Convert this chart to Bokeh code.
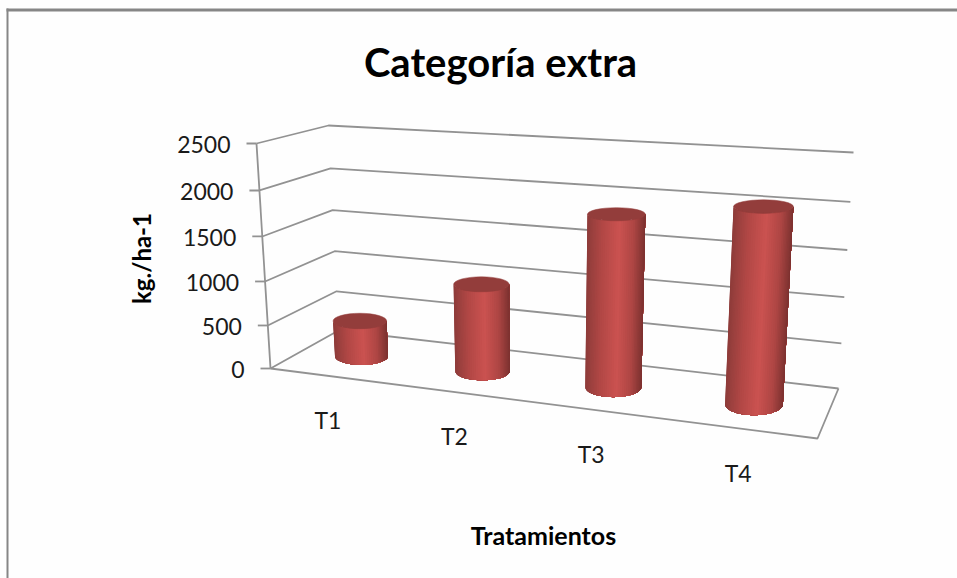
import numpy as np
from bokeh.plotting import figure
from bokeh.core.properties import value
from bokeh.embed import file_html
from bokeh.resources import INLINE

title_text = "Categoría extra"
x_title = "Tratamientos"
y_title = "kg./ha-1"
categories = ["T1", "T2", "T3", "T4"]
yields = [425, 995, 1875, 2060]
tick_values = [0, 500, 1000, 1500, 2000, 2500]
tick_labels = ["0", "500", "1000", "1500", "2000", "2500"]
y_max = 2500

# screen positions of the 3D box corners (base, top)
A0, A1 = np.array([270., 368.]), np.array([256., 143.])
B0, B1 = np.array([338., 330.]), np.array([328., 125.])
C0, C1 = np.array([838., 388.]), np.array([853., 152.])
D0, D1 = np.array([817., 438.]), np.array([833., 180.])

GRID = "#929292"
FONT = value("Lato")


def persp_u(u):
    return u - 0.15 * u * (1 - u)


def persp_v(v):
    return v - 0.055 * v * (1 - v)


def project(u, w, val):
    """category fraction u, depth w (0 front, 1 back), data value -> screen."""
    f = persp_u(u)
    s = persp_v(val / y_max)
    base = (1 - f) * ((1 - w) * A0 + w * B0) + f * ((1 - w) * D0 + w * C0)
    top = (1 - f) * ((1 - w) * A1 + w * B1) + f * ((1 - w) * D1 + w * C1)
    return base + (top - base) * s


def shade(t):
    stops_t = [0.0, 0.25, 0.55, 0.8, 1.0]
    stops_c = np.array([[0x8e, 0x3c, 0x3a], [0xb0, 0x47, 0x45], [0xcb, 0x52, 0x50],
                        [0xae, 0x46, 0x44], [0x7c, 0x32, 0x30]], float)
    rgb = [np.interp(t, stops_t, stops_c[:, i]) for i in range(3)]
    return "#%02x%02x%02x" % tuple(int(round(c)) for c in rgb)


p = figure(width=957, height=578, x_range=(0, 957), y_range=(578, 0),
           output_backend="svg", toolbar_location=None,
           x_axis_type=None, y_axis_type=None, min_border=0,
           background_fill_color="#fefefe", border_fill_color="#fefefe",
           outline_line_color=None)
p.grid.visible = False

# chart frame: top and left edges
p.line([7, 7], [8, 578], line_color="#868686", line_width=2)
p.line([6, 957], [9.5, 9.5], line_color="#868686", line_width=3)

# gridlines and walls
for v in tick_values:
    a, b, c = project(0, 0, v), project(0, 1, v), project(1, 1, v)
    p.line([a[0], b[0], c[0]], [a[1], b[1], c[1]], line_color=GRID, line_width=1.8)
# floor front
a, d, c = project(0, 0, 0), project(1, 0, 0), project(1, 1, 0)
p.line([a[0], d[0], c[0]], [a[1], d[1], c[1]], line_color=GRID, line_width=1.8)
# value axis with ticks
bot, top = project(0, 0, 0), project(0, 0, y_max)
p.line([bot[0], top[0]], [bot[1], top[1]], line_color=GRID, line_width=1.8)
for v in tick_values:
    q = project(0, 0, v)
    p.line([q[0] - 10, q[0]], [q[1], q[1]], line_color=GRID, line_width=1.8)

# cylinders
N = 40
for i, val in enumerate(yields):
    u = (i + 0.5) / len(categories)
    f = persp_u(u)
    c0 = project(u, 0.5, 0)
    c1 = project(u, 0.5, val)
    s = persp_v(val / y_max)
    rx0 = 26.0 + 3.4 * f
    rx1 = rx0 + 0.3 + 0.9 * s
    ry0 = 8.0 + 3.2 * f
    ry1 = ry0 * (1 - 0.45 * s)
    th = np.linspace(np.pi, 0, N + 1)
    xs, ys, cols = [], [], []
    for k in range(N):
        arc = th[k:]  # every strip reaches the right edge, the next one paints over it
        bx = c0[0] + rx0 * np.cos(arc)
        by = c0[1] + ry0 * np.sin(arc)
        tx_ = c1[0] + rx1 * np.cos(arc)
        ty_ = c1[1] + ry1 * np.sin(arc)
        xs.append(list(bx) + list(tx_[::-1]))
        ys.append(list(by) + list(ty_[::-1]))
        cols.append(shade((np.cos(th[k]) + np.cos(th[k + 1])) / 4 + 0.5))
    p.patches(xs, ys, fill_color=cols, line_color=None)
    p.ellipse(x=[c1[0]], y=[c1[1]], width=[2 * rx1], height=[2 * ry1],
              fill_color="#933d3b", line_color="#933d3b", line_width=0.5)

# tick labels
tx, ty = [], []
for v in tick_values:
    q = project(0, 0, v)
    tx.append(q[0] - 26)
    ty.append(q[1] + 1)
p.text(tx, ty, text=tick_labels, text_font=FONT, text_font_size="23px",
       text_color="#1a1a1a", text_align="right", text_baseline="middle")

# category labels
cx, cy = [], []
for i in range(len(categories)):
    q = project((i + 0.5) / len(categories), 0, 0)
    cx.append(q[0] - 2)
    cy.append(q[1] + 44)
p.text(cx, cy, text=categories, text_font=FONT, text_font_size="23px",
       text_color="#1a1a1a", text_align="center", text_baseline="middle")

# titles
p.text([500], [61], text=[title_text], text_font=FONT, text_font_size="40px",
       text_font_style="bold", text_color="#000000", text_align="center", text_baseline="middle")
p.text([543], [534], text=[x_title], text_font=FONT, text_font_size="25px",
       text_font_style="bold", text_color="#000000", text_align="center", text_baseline="middle")
p.text([141], [258], text=[y_title], text_font=FONT, text_font_size="24px", angle=np.pi / 2,
       text_font_style="bold", text_color="#000000", text_align="center", text_baseline="middle")

open("out.html", "w").write(file_html(p, INLINE))
